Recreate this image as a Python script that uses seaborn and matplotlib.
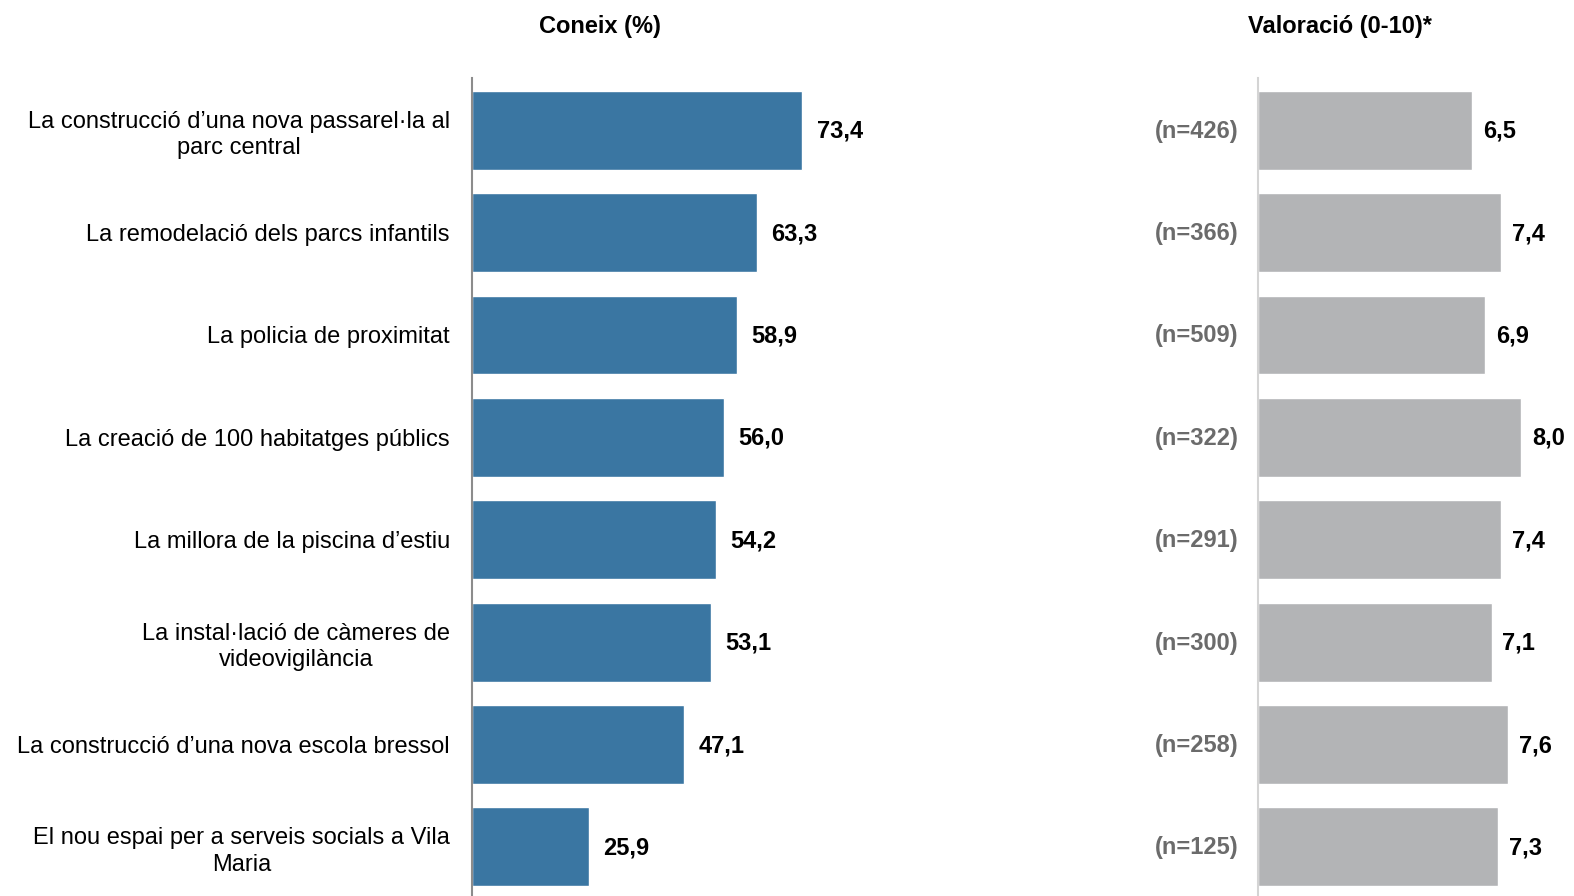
import seaborn as sns
import matplotlib.pyplot as plt
import pandas as pd

actuacions = [
    "La construcció d’una nova passarel·la al\nparc central",
    "La remodelació dels parcs infantils",
    "La policia de proximitat",
    "La creació de 100 habitatges públics",
    "La millora de la piscina d’estiu",
    "La instal·lació de càmeres de\nvideovigilància",
    "La construcció d’una nova escola bressol",
    "El nou espai per a serveis socials a Vila\nMaria",
]
coneix = [73.4, 63.3, 58.9, 56.0, 54.2, 53.1, 47.1, 25.9]
valoracio = [6.5, 7.4, 6.9, 8.0, 7.4, 7.1, 7.6, 7.3]
n_resp = [426, 366, 509, 322, 291, 300, 258, 125]

df = pd.DataFrame({"actuacio": actuacions, "coneix": coneix,
                   "valoracio": valoracio, "n": n_resp})

sns.set_style("white")
plt.rcParams["font.family"] = ["Liberation Sans", "DejaVu Sans"]
plt.rcParams["text.color"] = "black"
plt.rcParams["ytick.color"] = "black"
plt.rcParams["ytick.labelcolor"] = "black"

W, H = 1574, 896
fig = plt.figure(figsize=(W / 100, H / 100), dpi=100)

# axes placed in pixel terms
top = 78
ax1 = fig.add_axes([472 / W, 0, 450 / W, (H - top) / H])
ax2 = fig.add_axes([1258 / W, 0, 316 / W, (H - top) / H])

sns.barplot(data=df, y="actuacio", x="coneix", orient="h", color="#3A76A2",
            saturation=1, width=0.77, ax=ax1)
sns.barplot(data=df, y="actuacio", x="valoracio", orient="h", color="#B3B4B6",
            saturation=1, width=0.77, ax=ax2)

ax1.set_xlim(0, 100)
ax2.set_xlim(0, 316 / 32.9)
for ax in (ax1, ax2):
    ax.set_ylim(7.48, -0.51)
    ax.set_xlabel("")
    ax.set_ylabel("")
    ax.set_xticks([])
    for s in ("top", "right", "bottom"):
        ax.spines[s].set_visible(False)
    ax.tick_params(axis="y", length=0)

ax1.spines["left"].set_color("#8c8c8c")
ax1.spines["left"].set_linewidth(1.5)
ax2.spines["left"].set_color("#d4d4d4")
ax2.spines["left"].set_linewidth(1.5)

ax1.set_yticks(range(len(actuacions)))
ax1.set_yticklabels(actuacions, fontsize=17, multialignment="center",
                    linespacing=1.25, color="black")
ax1.tick_params(axis="y", pad=16)
ax2.set_yticks([])

for i, v in enumerate(coneix):
    ax1.text(v + 3.2, i + 0.01, f"{v:.1f}".replace(".", ","), va="center", ha="left",
             fontsize=17, fontweight="bold", color="black", clip_on=False)
for i, (v, n) in enumerate(zip(valoracio, n_resp)):
    ax2.text(v + 0.33, i + 0.01, f"{v:.1f}".replace(".", ","), va="center", ha="left",
             fontsize=17, fontweight="bold", color="black", clip_on=False)
    ax2.text(-0.6, i + 0.01, f"(n={n})", va="center", ha="right",
             fontsize=17, fontweight="bold", color="#6b6b6b", clip_on=False)

fig.text(600 / W, 1 - 26 / H, "Coneix (%)", ha="center", va="center",
         fontsize=17, fontweight="bold")
fig.text(1340 / W, 1 - 26 / H, "Valoració (0-10)*", ha="center", va="center",
         fontsize=17, fontweight="bold")

fig.savefig("out.png", dpi=100)
